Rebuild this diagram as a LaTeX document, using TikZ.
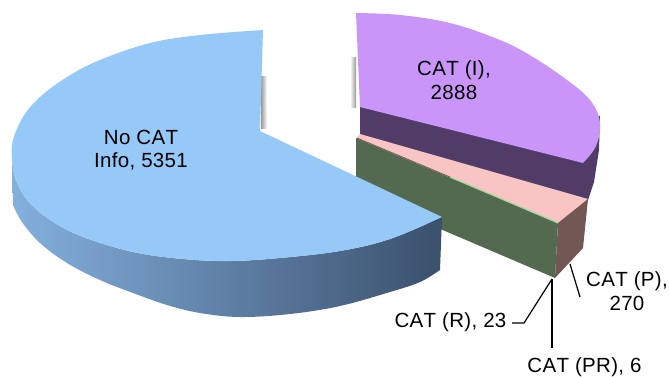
\documentclass[tikz,border=0pt]{standalone}
\usepackage{fontspec}
\setmainfont{Liberation Sans}[Kerning=Off, LetterSpace=1.5]
\definecolor{catItop}{RGB}{201,149,248}
\definecolor{catIdark}{RGB}{80,60,102}
\definecolor{catPtop}{RGB}{248,196,196}
\definecolor{catPside}{RGB}{115,87,84}
\definecolor{catRface}{RGB}{84,106,80}
\definecolor{catRlight}{RGB}{160,218,150}
\definecolor{blueTop}{RGB}{150,200,248}
\definecolor{sideL}{RGB}{132,176,222}
\definecolor{sideR}{RGB}{58,80,108}
\begin{document}
\begin{tikzpicture}[x=1pt,y=-1pt,
  lbl/.style={font=\fontsize{20.5}{23.5}\selectfont, inner sep=0pt, align=center, text=black},
  leader/.style={draw=black, line width=1.2pt}]
\useasboundingbox (0,0) rectangle (669,376);
% ---- exploded CAT group ----
\fill[catIdark] (360,100) -- (600,116) -- (599,150) -- (594,182) -- (588,200) -- (360,135) -- cycle;
\fill[catItop] (360,107) -- (356,13) -- plot[smooth,tension=0.6] coordinates {(356,13) (400,15) (450,23) (500,40) (533,57) (567,80) (590,100) (600,122) (596,146) (583,163)} -- cycle;
\fill[catPtop] (360,134) -- (588,199) -- (558,223) -- (357,138) -- cycle;
\fill[catPside] (588,199) -- (583,248) -- (555,278) -- (558,223) -- cycle;
\fill[catRface] (356,138) -- (558,223) -- (555,278) -- (356,193) -- cycle;
\draw[catRlight, line width=1.2pt] (450,177) -- (558,223);
\draw[catPside, line width=0.8pt] (357,138) -- (450,177);
\shade[left color=white, right color=black!40] (350,57) rectangle (356,107);
% ---- No CAT slice ----
\shade[left color=sideL, right color=sideR]
  plot[smooth,tension=0.6] coordinates {(12,157) (15,177) (27,200) (50,220) (83,237) (133,252) (183,259) (230,261) (280,258) (340,251) (390,239) (442,217)}
  -- (440,270)
  -- plot[smooth,tension=0.6] coordinates {(440,270) (420,282) (390,292) (340,306) (290,314) (240,317) (200,313) (167,305) (133,293) (100,280) (67,263) (40,243) (22,222) (13,205)}
  -- cycle;
\shade[left color=black!40, right color=white] (261,76) rectangle (267,128);
\fill[blueTop] (260,131) -- (263,30) -- plot[smooth,tension=0.6] coordinates {(263,30) (200,35) (150,43) (100,60) (67,77) (40,97) (23,117) (13,140) (12,157) (15,177) (27,200) (50,220) (83,237) (133,252) (183,259) (230,261) (280,258) (340,251) (390,239) (442,217)} -- cycle;
% ---- labels ----
\node[lbl] (noc) at (141,150) {No CAT\\Info, 5351};
\node[lbl] (cI) at (454,80) {CAT (I),\\2888};
\node[lbl] (cP) at (627,291) {CAT (P),\\270};
\node[lbl, anchor=base] (cR) at (450.5,327.5) {CAT (R), 23};
\node[lbl, anchor=base] (cPR) at (584.5,372.5) {CAT (PR), 6};
% ---- leaders ----
\coordinate (tipP) at (570,264);
\coordinate (endP) at (580,297);
\coordinate (tipR) at (552,279);
\coordinate (kneeR) at (524,323);
\coordinate (endR) at (512,323);
\coordinate (endPR) at (552,348);
\draw[leader] (endP) -- (tipP);
\draw[leader] (endR) -- (kneeR) -- (tipR);
\draw[leader] (endPR) -- (tipR);
\end{tikzpicture}
\end{document}
